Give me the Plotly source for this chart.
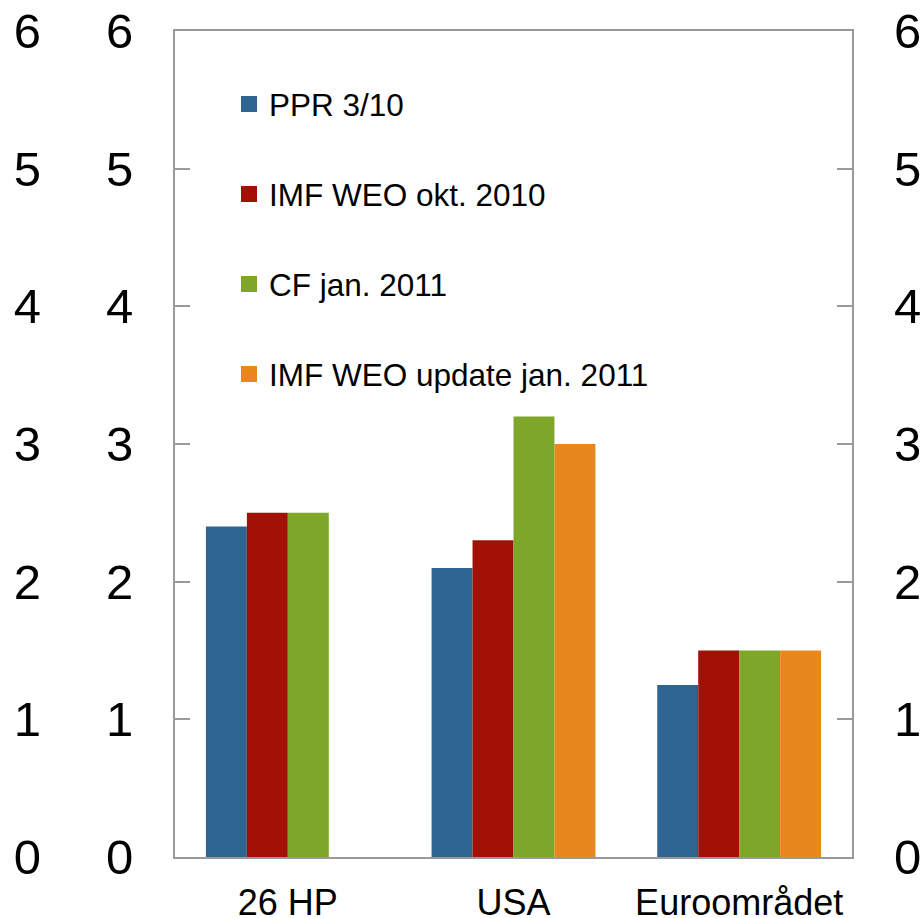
import plotly.graph_objects as go

categories = ["26 HP", "USA", "Euroområdet"]
series_names = ["PPR 3/10", "IMF WEO okt. 2010", "CF jan. 2011", "IMF WEO update jan. 2011"]
ppr = [2.4, 2.1, 1.25]
imf_okt = [2.5, 2.3, 1.5]
cf_jan = [2.5, 3.2, 1.5]
imf_upd = [None, 3.0, 1.5]
tick_vals = [0, 1, 2, 3, 4, 5, 6]
tick_text = ["0", "1", "2", "3", "4", "5", "6"]

colors = ["#2E6491", "#A21106", "#7EA628", "#E9871F"]
values = [ppr, imf_okt, cf_jan, imf_upd]

W, H = 921, 918
x0, x1 = 175, 852
top, bottom = 31, 857
L, R, T, B = 0, 0, top, H - bottom
plot_h = bottom - top
FONT = "Liberation Sans, Arial, sans-serif"
LINE = "#9A9A9A"

fig = go.Figure()
for name, vals, col in zip(series_names, values, colors):
    fig.add_trace(go.Bar(x=categories, y=vals, name=name, marker_color=col,
                         marker_line_width=0, showlegend=False))

legend_ids = ["legend", "legend2", "legend3", "legend4"]
legend_y_px = [104, 194, 284, 374]
for i, (name, col) in enumerate(zip(series_names, colors)):
    fig.add_trace(go.Scatter(x=[None], y=[None], mode="markers", name=name,
                             marker=dict(symbol="square", size=17, color=col),
                             legend=legend_ids[i], showlegend=True))

layout_legends = {}
for i, lid in enumerate(legend_ids):
    layout_legends[lid] = dict(
        x=229 / W, xanchor="left",
        y=(bottom - legend_y_px[i]) / plot_h, yanchor="middle",
        bgcolor="rgba(0,0,0,0)", borderwidth=0,
        font=dict(family=FONT, size=31.5, color="black"),
        itemwidth=30,
    )

ytick_common = dict(range=[0, 6], tickvals=tick_vals, ticktext=tick_text,
                    showgrid=False, zeroline=False, ticklabeloverflow="allow",
                    automargin=False,
                    tickfont=dict(size=49, family=FONT, color="black"))

fig.update_layout(
    width=W, height=H,
    margin=dict(l=L, r=R, t=T, b=B, autoexpand=False),
    paper_bgcolor="white", plot_bgcolor="white",
    barmode="group", bargap=0.274, bargroupgap=0,
    font=dict(family=FONT, color="black"),
    xaxis=dict(domain=[x0 / W, x1 / W], showline=True, mirror=True,
               linecolor=LINE, linewidth=2, ticks="", showgrid=False,
               ticklabeloverflow="allow", automargin=False,
               tickfont=dict(size=36, family=FONT, color="black"),
               ticklabelstandoff=13),
    yaxis=dict(showline=True, mirror="ticks", linecolor=LINE, linewidth=2,
               ticks="inside", ticklen=15, tickwidth=2, tickcolor=LINE,
               ticklabelstandoff=30, **ytick_common),
    yaxis2=dict(overlaying="y", side="right", anchor="x", showline=False,
                ticks="", ticklabelstandoff=41, **ytick_common),
    yaxis3=dict(overlaying="y", side="left", anchor="free", position=41 / W,
                showline=False, ticks="", ticklabelstandoff=0, **ytick_common),
    **layout_legends,
)
# dummy traces to activate overlay axes
fig.add_trace(go.Scatter(x=[None], y=[None], yaxis="y2", showlegend=False, hoverinfo="skip"))
fig.add_trace(go.Scatter(x=[None], y=[None], yaxis="y3", showlegend=False, hoverinfo="skip"))

fig.write_html(
    "out.html",
    config={"displayModeBar": False},
    post_script="document.body.style.margin='0';document.body.style.overflow='hidden';",
)
